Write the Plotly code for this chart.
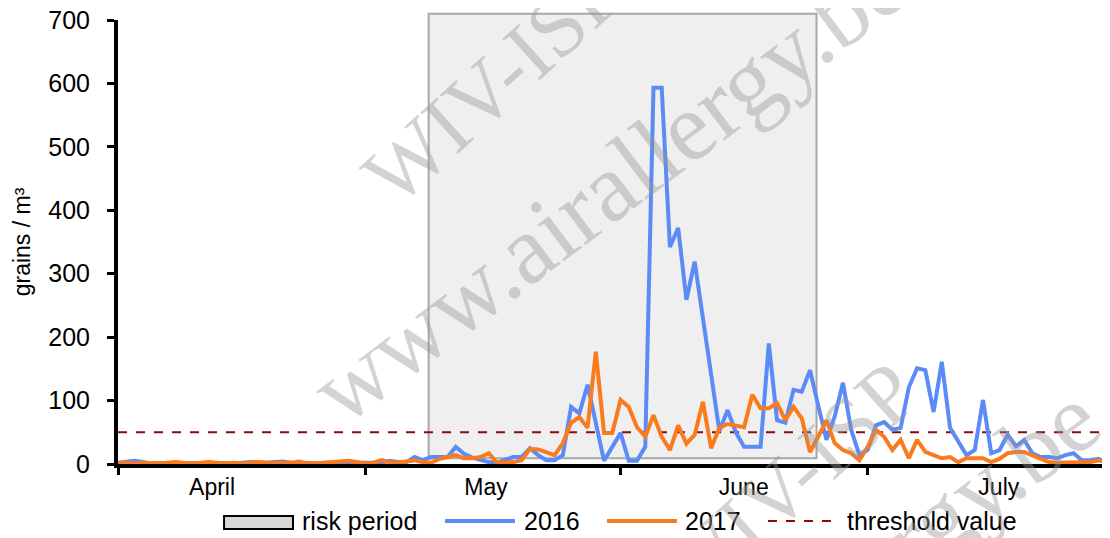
import pandas as pd
import plotly.graph_objects as go

# ---------------- data ----------------
START_DATE = "2017-04-01"

SERIES_2016 = [
    2, 3, 5, 3, 1, 1, 2, 1, 1, 2, 1, 1, 2, 1, 1, 2, 3, 2, 2, 3, 4, 2, 1, 2, 1, 2, 2, 3, 2, 3,
    2, 3, 2, 5, 3, 3, 11, 6, 11, 11, 11, 27, 16, 10, 6, 3, 2, 6, 11, 11, 25, 14, 6, 6, 14, 90, 80, 125, 65, 5, 27,
    49, 5, 5, 27, 593, 593, 342, 372, 259, 319, 231, 140, 52, 85, 50, 27, 27, 27, 190, 69, 65, 117, 114, 148, 92, 38, 75, 128, 54, 14,
    22, 61, 66, 54, 57, 121, 151, 148, 82, 161, 57, 35, 14, 22, 101, 17, 22, 46, 28, 38, 17, 11, 11, 9, 14, 17, 6, 6, 8, 3,
]

SERIES_2017 = [
    1, 2, 1, 2, 1, 1, 2, 3, 2, 1, 2, 3, 2, 1, 2, 1, 2, 3, 2, 2, 3, 2, 4, 1, 1, 2, 3, 4, 5, 3,
    1, 2, 6, 3, 2, 4, 6, 3, 2, 8, 11, 14, 9, 9, 11, 17, 2, 2, 3, 6, 24, 23, 19, 14, 33, 65, 74, 57, 177, 49, 49,
    101, 90, 58, 43, 77, 43, 22, 61, 32, 46, 98, 25, 57, 63, 60, 58, 109, 88, 88, 96, 69, 90, 72, 19, 43, 69, 33, 22, 17, 6,
    27, 54, 43, 22, 38, 9, 38, 19, 14, 9, 11, 3, 9, 9, 9, 3, 8, 17, 19, 19, 14, 9, 3, 2, 2, 2, 2, 3, 6, 3,
]

SERIES_NAMES = ["2016", "2017"]
THRESHOLD = 50
RISK_START = "2017-05-08 17:00"
RISK_END = "2017-06-24 19:00"
RISK_LOW = 9
RISK_HIGH = 710

Y_MAX = 700
Y_TICKS = [0, 100, 200, 300, 400, 500, 600, 700]
MONTH_LABELS = ["April", "May", "June", "July"]
MONTH_LABEL_POS = ["2017-04-12 10:00", "2017-05-15 16:00", "2017-06-15 23:00", "2017-07-16 22:00"]
X_RANGE = ["2017-04-01", "2017-07-30 10:00"]

LEGEND_LABELS = ["risk period", "2016", "2017", "threshold value"]
WATERMARK = ["WIV-ISP", "www.airallergy.be"]

dates = pd.date_range(START_DATE, periods=len(SERIES_2016), freq="D")

# ---------------- style ----------------
BLUE = "#5B8BF7"
ORANGE = "#FA7A1E"
DARKRED = "#8B0A0A"
FONT = "Liberation Sans, Arial, sans-serif"

fig = go.Figure()
fig.add_trace(go.Scatter(x=dates, y=SERIES_2016, mode="lines", name=SERIES_NAMES[0],
                         line=dict(color=BLUE, width=4), showlegend=False))
fig.add_trace(go.Scatter(x=dates, y=SERIES_2017, mode="lines", name=SERIES_NAMES[1],
                         line=dict(color=ORANGE, width=4), showlegend=False))

shapes = [
    # risk period box
    dict(type="rect", xref="x", yref="paper", x0=RISK_START, x1=RISK_END,
         y0=RISK_LOW / Y_MAX, y1=RISK_HIGH / Y_MAX, layer="below",
         fillcolor="#EFEFEF", line=dict(color="#A8A8A8", width=2)),
    # threshold
    dict(type="line", xref="paper", yref="y", x0=0, x1=1, y0=THRESHOLD, y1=THRESHOLD,
         layer="below", line=dict(color=DARKRED, width=2, dash="dash")),
    # legend symbols
    dict(type="rect", xref="paper", yref="paper", x0=0.1069, x1=0.1764, y0=-0.1171, y1=-0.1464,
         fillcolor="#D8D8D8", line=dict(color="black", width=2)),
    dict(type="line", xref="paper", yref="paper", x0=0.3296, x1=0.4002, y0=-0.1284, y1=-0.1284,
         line=dict(color=BLUE, width=4)),
    dict(type="line", xref="paper", yref="paper", x0=0.4929, x1=0.5635, y0=-0.1284, y1=-0.1284,
         line=dict(color=ORANGE, width=4)),
    dict(type="line", xref="paper", yref="paper", x0=0.6552, x1=0.7248, y0=-0.1284, y1=-0.1284,
         line=dict(color=DARKRED, width=2, dash="dash")),
]

annotations = []
for lbl, xp in zip(LEGEND_LABELS, [0.1835, 0.4073, 0.5696, 0.7329]):
    annotations.append(dict(text=lbl, xref="paper", yref="paper", x=xp, y=-0.1284,
                            xanchor="left", yanchor="middle", showarrow=False,
                            font=dict(family=FONT, size=25, color="black")))

# watermark
wm_pos = [(WATERMARK[0], 0.378, 0.858, -42, 85), (WATERMARK[1], 0.4948, 0.6261, -37, 98),
          (WATERMARK[0], 0.675, -0.043, -42, 85), (WATERMARK[1], 0.689, -0.356, -37, 98)]
for txt, xp, yp, ang, sz in wm_pos:
    annotations.append(dict(text=txt, xref="paper", yref="paper", x=xp, y=yp,
                            xanchor="center", yanchor="middle", showarrow=False, textangle=ang,
                            font=dict(family="Liberation Serif, Times New Roman, serif", size=sz,
                                      color="rgba(150,150,150,0.42)")))

# the page adds an 8px body margin, so the figure is sized to fit the 1110x538 window
fig.update_layout(
    width=1102, height=530,
    margin=dict(l=110, r=0, t=12, b=74),
    paper_bgcolor="white", plot_bgcolor="white",
    font=dict(family=FONT, size=25, color="black"),
    shapes=shapes, annotations=annotations,
    showlegend=False,
)
fig.update_xaxes(
    type="date", range=X_RANGE, automargin=False,
    tickmode="array", tickvals=MONTH_LABEL_POS, ticktext=MONTH_LABELS,
    ticks="", showgrid=False, zeroline=False,
    showline=True, linecolor="black", linewidth=4,
    tickfont=dict(family=FONT, size=23, color="black"),
    ticklabelstandoff=-1, ticklabeloverflow="allow",
    minor=dict(dtick="M1", tick0="2017-04-01", ticks="outside", ticklen=7, tickwidth=3,
               tickcolor="black", showgrid=False),
)
fig.update_yaxes(
    range=[0, Y_MAX], tickmode="array", tickvals=Y_TICKS, automargin=False,
    ticks="outside", ticklen=7, tickwidth=3, tickcolor="black",
    showline=True, linecolor="black", linewidth=4,
    showgrid=False, zeroline=False,
    tickfont=dict(family=FONT, size=25, color="black"),
    ticklabelstandoff=12, ticklabeloverflow="allow",
    title=dict(text="grains / m³", font=dict(family=FONT, size=23, color="black"), standoff=12),
)

fig.write_html("out.html")
